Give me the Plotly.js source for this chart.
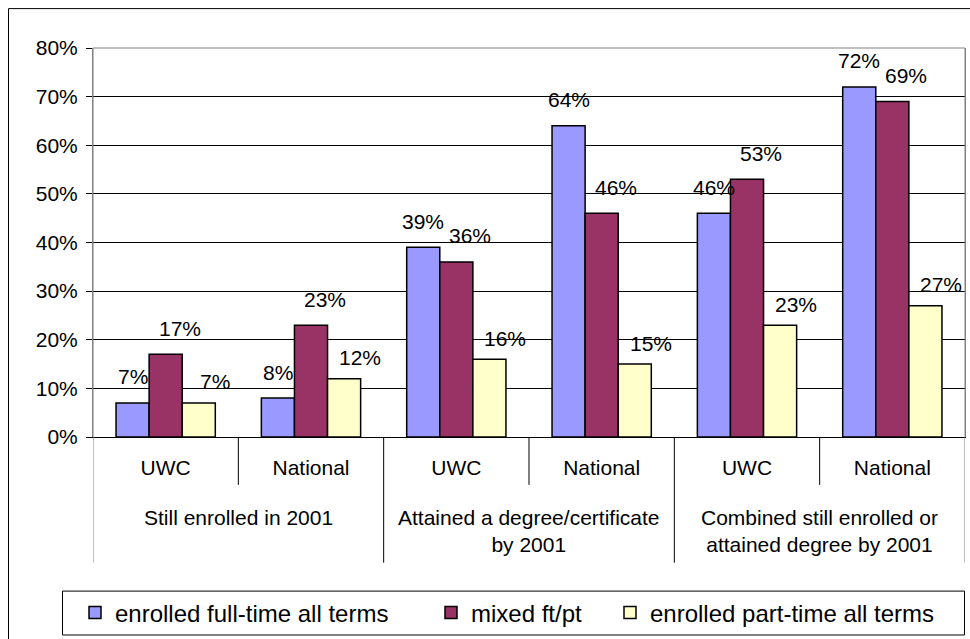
<!DOCTYPE html>
<html>
<head>
<meta charset="utf-8">
<script src="https://cdn.plot.ly/plotly-3.0.1.min.js"></script>
<style>
  html, body { margin: 0; padding: 0; background: #ffffff; }
  #chart { width: 970px; height: 639px; }
</style>
</head>
<body>
<div id="chart"></div>
<script>
// ---- data ----
const outerGroups = [
  'Still enrolled in 2001',
  'Attained a degree/certificate<br>by 2001',
  'Combined still enrolled or<br>attained degree by 2001'
];
const innerLabels = ['UWC', 'National', 'UWC', 'National', 'UWC', 'National'];
const seriesNames = ['enrolled full-time all terms', 'mixed ft/pt', 'enrolled part-time all terms'];
const fullTime = [0.07, 0.08, 0.39, 0.64, 0.46, 0.72];
const mixedFtPt = [0.17, 0.23, 0.36, 0.46, 0.53, 0.69];
const partTime = [0.07, 0.12, 0.16, 0.15, 0.23, 0.27];
const yTickVals = [0, 0.1, 0.2, 0.3, 0.4, 0.5, 0.6, 0.7, 0.8];

// ---- styling ----
const FONT = '"Liberation Sans", Arial, sans-serif';
const colors = ['#9999FF', '#993366', '#FFFFCC'];
const labelXShift = [0, 14, 16];
const labelYShift = [26, 26, 21];
const BARGAP = 0.317;

// pixel geometry of the plot area
const W = 970, H = 639;
const M = { l: 93, r: 5, t: 48, b: 201 };
const PW = W - M.l - M.r, PH = H - M.t - M.b;
const px2x = p => (p - M.l) / PW;
const py2y = p => (H - M.b - p) / PH;

const idx = innerLabels.map((_, i) => i);
const allSeries = [fullTime, mixedFtPt, partTime];

const traces = allSeries.map((vals, k) => ({
  type: 'bar',
  name: seriesNames[k],
  x: idx,
  y: vals,
  marker: { color: colors[k], line: { color: '#000000', width: 1.5 } },
  legend: k === 0 ? 'legend' : 'legend' + (k + 1),
  hoverinfo: 'skip'
}));

// data labels
const barW = (1 - BARGAP) / allSeries.length;
const annotations = [];
allSeries.forEach((vals, k) => {
  vals.forEach((v, i) => {
    annotations.push({
      xref: 'x', yref: 'y',
      x: i + (k - (allSeries.length - 1) / 2) * barW,
      y: v,
      text: Math.round(v * 100) + '%',
      showarrow: false,
      xanchor: 'center', yanchor: 'middle',
      xshift: labelXShift[k], yshift: labelYShift[k],
      font: { family: FONT, size: 21, color: '#000000' }
    });
  });
});
// outer group labels
outerGroups.forEach((g, j) => {
  annotations.push({
    xref: 'x', yref: 'paper',
    x: j * 2 + 0.5,
    y: py2y(505),
    text: g,
    showarrow: false,
    xanchor: 'center', yanchor: 'top', align: 'center',
    font: { family: FONT, size: 21, color: '#000000' }
  });
});

// dividers
const shapes = [];
for (let b = 0; b <= innerLabels.length; b++) {
  const xv = b - 0.5;
  const isEdge = (b === 0 || b === innerLabels.length);
  const isGroup = (b % 2 === 0);
  shapes.push({
    type: 'line', xref: 'x', yref: 'paper',
    x0: xv, x1: xv,
    y0: isEdge ? 1 : 0,
    y1: py2y(isGroup ? 564 : 486),
    line: { color: isEdge ? '#808080' : '#000000', width: 1 },
    layer: 'above'
  });
}
// top border of plot area
shapes.push({
  type: 'line', xref: 'paper', yref: 'paper',
  x0: 0, x1: 1, y0: 1, y1: 1,
  line: { color: '#808080', width: 1 }, layer: 'above'
});
// outer chart frame
shapes.push({
  type: 'rect', xref: 'paper', yref: 'paper',
  x0: px2x(8.5), x1: px2x(1200), y0: py2y(900), y1: py2y(8.5),
  line: { color: '#000000', width: 1 }, fillcolor: 'rgba(0,0,0,0)', layer: 'below'
});
// legend frame
shapes.push({
  type: 'rect', xref: 'paper', yref: 'paper',
  x0: px2x(62.5), x1: px2x(964.5), y0: py2y(636.5), y1: py2y(592.5),
  line: { color: '#000000', width: 1 }, fillcolor: 'rgba(0,0,0,0)', layer: 'above'
});

const legendBase = {
  orientation: 'h', xanchor: 'left', yanchor: 'middle',
  y: py2y(613),
  bgcolor: 'rgba(0,0,0,0)', borderwidth: 0,
  font: { family: FONT, size: 24, color: '#000000' }
};
const legendLefts = [75, 431, 610];

const layout = {
  width: W, height: H,
  margin: { l: M.l, r: M.r, t: M.t, b: M.b, pad: 0 },
  paper_bgcolor: '#ffffff',
  plot_bgcolor: '#ffffff',
  barmode: 'group',
  bargap: BARGAP,
  bargroupgap: 0,
  showlegend: true,
  font: { family: FONT, size: 21, color: '#000000' },
  xaxis: {
    type: 'linear',
    range: [-0.5, innerLabels.length - 0.5],
    tickmode: 'array', tickvals: idx, ticktext: innerLabels,
    ticks: '', ticklabelstandoff: 12,
    showgrid: false, zeroline: false,
    showline: true, linecolor: '#000000', linewidth: 1,
    tickfont: { family: FONT, size: 21, color: '#000000' },
    fixedrange: true
  },
  yaxis: {
    range: [0, 0.8],
    tickmode: 'array', tickvals: yTickVals,
    tickformat: '.0%',
    showgrid: true, gridcolor: '#000000', gridwidth: 1,
    zeroline: false,
    showline: true, linecolor: '#808080', linewidth: 1, mirror: true,
    ticks: 'outside', ticklen: 6, tickcolor: '#000000', tickwidth: 1,
    ticklabelstandoff: 4,
    tickfont: { family: FONT, size: 21, color: '#000000' },
    fixedrange: true
  },
  legend: Object.assign({}, legendBase, { x: px2x(legendLefts[0]) }),
  legend2: Object.assign({}, legendBase, { x: px2x(legendLefts[1]) }),
  legend3: Object.assign({}, legendBase, { x: px2x(legendLefts[2]) }),
  annotations: annotations,
  shapes: shapes
};

Plotly.newPlot('chart', traces, layout, { displayModeBar: false, staticPlot: true });
</script>
</body>
</html>
